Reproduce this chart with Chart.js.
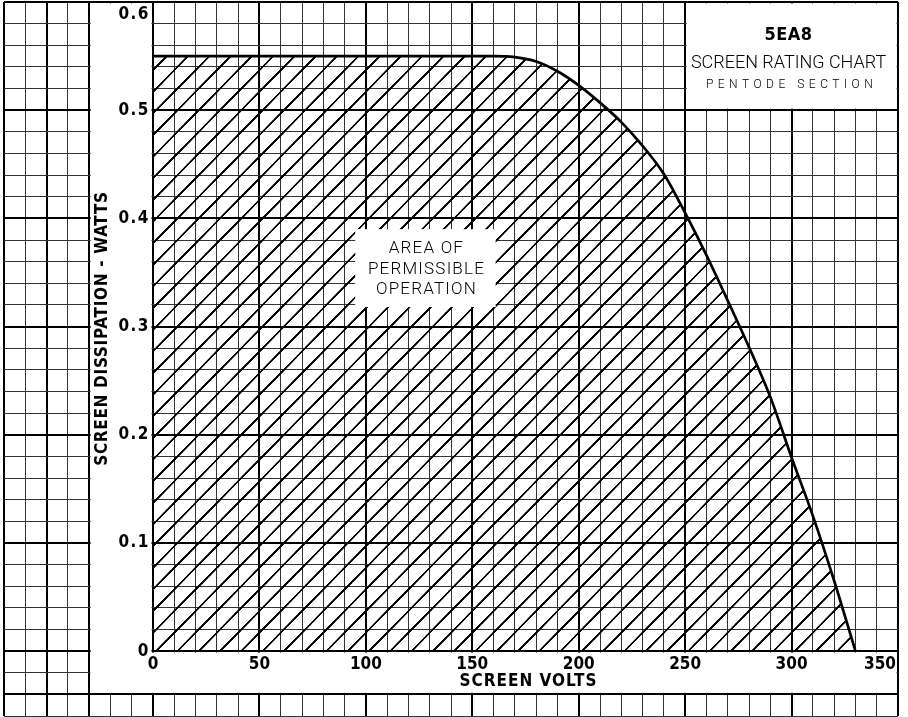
<!DOCTYPE html>
<html><head><meta charset="utf-8">
<script src="https://cdn.jsdelivr.net/npm/chart.js@4.4.1/dist/chart.umd.min.js"></script>
<style>html,body{margin:0;padding:0;background:#fff}#wrap{width:908px;height:717px}canvas{display:block}</style>
</head><body><div id="wrap"><canvas id="c" width="908" height="717"></canvas></div>
<script>
// ---- data ----
const screenVolts = [0, 160, 170, 180, 190, 200, 210, 220, 230, 240, 250, 260, 270, 280, 290, 300, 310, 320, 330];
const screenWatts = [0.55, 0.55, 0.549, 0.545, 0.536, 0.523, 0.507, 0.489, 0.467, 0.441, 0.405, 0.366, 0.324, 0.281, 0.235, 0.179, 0.125, 0.065, 0];
const xTickValues = [0, 50, 100, 150, 200, 250, 300, 350];
const xTickLabels = ['0', '50', '100', '150', '200', '250', '300', '350'];
const yTickValues = [0, 0.1, 0.2, 0.3, 0.4, 0.5, 0.6];
const yTickLabels = ['0', '0.1', '0.2', '0.3', '0.4', '0.5', '0.6'];
const titleLines = ['5EA8', 'SCREEN RATING CHART', 'PENTODE SECTION'];
const areaLines = ['AREA OF', 'PERMISSIBLE', 'OPERATION'];
const xTitle = 'SCREEN VOLTS';
const yTitle = 'SCREEN DISSIPATION - WATTS';

const COND = '"DejaVu Sans Condensed", "DejaVu Sans", sans-serif';
const THIN = 'Roboto, "DejaVu Sans Condensed", sans-serif';

function isMajorX(v) { v = Math.round(v); return v % 50 === 0 || v === -30 || v === -70; }
function isMajorY(v) { v = Math.round(v * 100); return v % 10 === 0 || v === -4; }

const paper = {
  id: 'paper',
  afterLayout(chart) {
    const xs = chart.scales.x, ys = chart.scales.y;
    const w = xs.getPixelForValue(10) - xs.getPixelForValue(0);
    const h = ys.getPixelForValue(0) - ys.getPixelForValue(0.02);
    const T = 100;
    const c = document.createElement('canvas'); c.width = T; c.height = T;
    const g = c.getContext('2d');
    g.strokeStyle = '#000';
    g.lineWidth = 1.85 * T / w;
    g.beginPath();
    for (const k of [0, T, 2 * T]) { g.moveTo(-10, k + 10); g.lineTo(T + 10, k - T - 10); }
    g.stroke();
    const p = chart.ctx.createPattern(c, 'repeat');
    const x0 = xs.getPixelForValue(1.5), y0 = ys.getPixelForValue(0) - h;
    p.setTransform(new DOMMatrix([w / T, 0, 0, h / T, x0, y0]));
    chart.$hatch = p;
  },
  beforeDatasetsDraw(chart) {
    const xs = chart.scales.x, ys = chart.scales.y, ctx = chart.ctx;
    const px = v => xs.getPixelForValue(v), py = v => ys.getPixelForValue(v);
    ctx.save();
    ctx.fillStyle = '#fff';
    // y-axis label strip
    ctx.fillRect(px(-30) + 1.5, py(0.6) + 1.5, px(0) - px(-30) - 3, py(-0.04) - py(0.6) - 3);
    // x-axis label strip
    ctx.fillRect(px(-30) + 1.5, py(0) + 1.5, px(350) - px(-30) - 3, py(-0.04) - py(0) - 3);
    // title box
    ctx.fillRect(px(250) + 1.5, py(0.6) + 1.5, px(350) - px(250) - 3, py(0.5) - py(0.6) - 3);
    ctx.restore();
  },
  afterDatasetsDraw(chart) {
    const xs = chart.scales.x, ys = chart.scales.y, ctx = chart.ctx;
    const px = v => xs.getPixelForValue(v), py = v => ys.getPixelForValue(v);
    ctx.save();
    ctx.fillStyle = '#fff';
    ctx.fillRect(px(95), py(0.39), px(161) - px(95), py(0.318) - py(0.39));
    ctx.restore();
  },
  afterDraw(chart) {
    const xs = chart.scales.x, ys = chart.scales.y, ctx = chart.ctx;
    const px = v => xs.getPixelForValue(v), py = v => ys.getPixelForValue(v);
    ctx.save();
    ctx.fillStyle = '#000';
    ctx.textBaseline = 'middle';
    // y ticks
    ctx.font = 'bold 17px ' + COND;
    ctx.letterSpacing = '1.5px';
    ctx.textAlign = 'right';
    yTickValues.forEach((v, i) => {
      let y = py(v);
      if (i === yTickValues.length - 1) y += 13;
      ctx.fillText(yTickLabels[i], px(0) - 3, y);
    });
    // x ticks
    ctx.letterSpacing = '0px';
    xTickValues.forEach((v, i) => {
      const last = i === xTickValues.length - 1;
      ctx.textAlign = last ? 'right' : 'center';
      ctx.fillText(xTickLabels[i], last ? px(v) - 2 : px(v), py(0) + 13);
    });
    // axis titles
    ctx.font = 'bold 17px ' + COND;
    ctx.letterSpacing = '1px';
    ctx.textAlign = 'center';
    ctx.fillText(xTitle, (px(0) + px(350)) / 2 + 3, py(-0.04) - 13);
    ctx.save();
    ctx.translate(px(-30) + 13, py(0.3) + 2);
    ctx.rotate(-Math.PI / 2);
    ctx.letterSpacing = '0.7px';
    ctx.fillText(yTitle, 0, 0);
    ctx.restore();
    // title box
    const tx = (px(250) + px(350)) / 2 - 3;
    ctx.font = 'bold 18px ' + COND;
    ctx.letterSpacing = '0.5px';
    ctx.fillText(titleLines[0], tx, 35);
    ctx.font = '300 18px ' + THIN;
    ctx.letterSpacing = '0px';
    ctx.fillText(titleLines[1], tx, 63);
    ctx.font = '300 12px ' + THIN;
    ctx.letterSpacing = '4.5px';
    ctx.fillText(titleLines[2], tx + 3, 85);
    // area label
    const ax = (px(95) + px(161)) / 2;
    ctx.font = '300 17px ' + THIN;
    ctx.letterSpacing = '1.2px';
    ctx.fillText(areaLines[0], ax + 1, 249);
    ctx.fillText(areaLines[1], ax + 1, 270);
    ctx.fillText(areaLines[2], ax + 1, 290);
    ctx.restore();
  }
};

new Chart(document.getElementById('c'), {
  type: 'line',
  data: {
    datasets: [{
      data: screenVolts.map((v, i) => ({ x: v, y: screenWatts[i] })),
      borderColor: '#000',
      borderWidth: 2.7,
      pointRadius: 0,
      cubicInterpolationMode: 'monotone',
      fill: 'origin',
      backgroundColor: ctx => ctx.chart.$hatch || 'rgba(0,0,0,0)'
    }]
  },
  options: {
    responsive: false,
    animation: false,
    devicePixelRatio: 1,
    layout: { padding: { left: 4, top: 2, right: 10, bottom: 1 } },
    plugins: { legend: { display: false }, tooltip: { enabled: false } },
    scales: {
      x: {
        type: 'linear', min: -70, max: 350,
        ticks: { stepSize: 10, display: false, autoSkip: false },
        border: { display: false },
        grid: {
          drawTicks: false,
          color: c => isMajorX(c.tick.value) ? '#000' : '#333',
          lineWidth: c => isMajorX(c.tick.value) ? 2 : 1
        }
      },
      y: {
        type: 'linear', min: -0.06, max: 0.6,
        ticks: { stepSize: 0.02, display: false, autoSkip: false },
        border: { display: false },
        grid: {
          drawTicks: false,
          color: c => isMajorY(c.tick.value) ? '#000' : '#333',
          lineWidth: c => isMajorY(c.tick.value) ? 2 : 1
        }
      }
    }
  },
  plugins: [paper]
});
</script></body></html>
